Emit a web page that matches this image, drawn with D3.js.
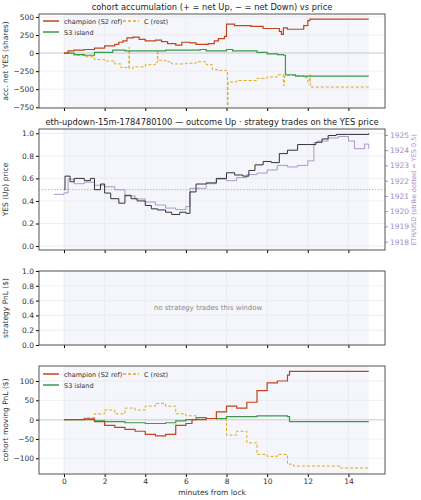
<!DOCTYPE html><html><head><meta charset="utf-8">
<script src="https://cdn.jsdelivr.net/npm/d3@7"></script>
<style>body{margin:0;background:#fff}text{font-family:"DejaVu Sans",sans-serif}</style></head><body>
<svg id="c" width="421" height="500"></svg>
<script>
const accChampT=[0,0.2,0.5,1,1.5,2,2.5,2.7,2.9,3.1,3.4,3.7,4,4.5,4.8,5.1,5.5,5.8,6.2,6.5,7.1,7.4,7.6,7.9,8.0,8.4,9.2,9.8,10.3,10.6,10.7,10.8,11.0,11.4,11.8,12.0,12.1,15];
const accChampV=[0,30,40,50,70,100,120,150,170,210,220,190,170,180,160,130,110,150,140,120,130,170,200,230,400,380,370,340,340,300,260,350,330,330,380,450,470,470];
const accS3T=[0,0.5,1,1.4,1.5,2.2,2.4,3,4,5,6,6.7,7,8,8.3,9,9.5,10,10.5,10.8,10.9,11.4,15];
const accS3V=[0,-20,-30,-30,10,10,40,30,30,40,40,50,30,50,30,30,10,-10,-20,-30,-300,-320,-320];
const accCT=[0,0.5,1,1.5,2,2.5,2.8,3.1,3.2,3.22,3.4,4,4.5,4.6,4.62,5,5.3,6,6.5,7.0,7.3,7.6,8,8.05,8.07,8.5,9.5,10,10.5,10.8,10.85,11,11.8,12,12.1,12.12,15];
const accCV=[0,-30,-50,-90,-110,-150,-200,-210,80,-210,-190,-160,-130,40,-100,-120,-150,-140,-120,-160,-230,-240,-260,-730,-400,-380,-350,-330,-300,-450,-320,-310,-340,-400,-300,-470,-470];
const yesT=[0,0.05,0.3,0.5,1,1.3,1.5,1.8,2,2.3,2.7,3,3.3,3.6,4,4.3,4.6,5,5.3,5.7,6.0,6.2,6.5,7,7.5,8,8.4,8.8,9.1,9.4,9.8,10.2,10.6,11,11.5,12,12.4,12.7,13,13.4,14,15];
const yesV=[0.5,0.62,0.57,0.6,0.58,0.6,0.5,0.55,0.47,0.42,0.38,0.45,0.42,0.4,0.36,0.33,0.32,0.3,0.28,0.3,0.29,0.48,0.55,0.56,0.6,0.65,0.63,0.62,0.67,0.72,0.75,0.74,0.82,0.85,0.9,0.9,0.92,0.95,0.98,0.99,0.99,1.0];
const ethT=[-0.5,0,0.2,0.5,1,1.5,2,2.5,3,3.5,4,4.5,5,5.5,6,6.2,7,7.5,8,8.5,9,9.5,10,10.5,11,11.5,12,12.3,12.5,13,13.5,14,14.3,14.8,15];
const ethV=[1921.1,1921.2,1922.1,1921.8,1921.9,1921.7,1921.6,1921.4,1921,1920.8,1920.6,1920.4,1920.2,1920.1,1920.3,1921.5,1921.8,1922.1,1922,1922.2,1922.4,1922.5,1922.7,1923,1922.9,1923,1923.3,1924.5,1924.6,1924.8,1924.9,1924.6,1924.1,1924.4,1924.1];
const pnlChampT=[0,1,1.5,2,2.5,3,3.5,4,4.5,5,5.5,6,6.3,7,7.5,8,8.5,9,9.5,10,10.5,11,11.1,15];
const pnlChampV=[0,2,-5,-15,-20,-25,-30,-38,-42,-38,-15,-10,0,3,20,35,30,45,75,95,100,115,125,125];
const pnlCT=[0,1,1.5,2,2.5,3,3.5,4,4.5,5,5.5,6,6.5,7,7.5,8,8.5,9,9.5,10,10.5,11,11.3,13.6,15];
const pnlCV=[0,5,15,25,15,30,25,35,42,35,15,10,5,3,0,-40,-30,-60,-90,-95,-90,-115,-120,-125,-125];
const pnlS3T=[0,1,1.5,2,3,4,5,5.5,6,6.5,7,8,9.5,11,11.1,15];
const pnlS3V=[0,0,-3,-5,-8,-10,-8,-3,0,5,3,8,10,8,-5,-5];
const xTicks=[0,2,4,6,8,10,12,14];
const RED="#c2441c",GREEN="#3a9a48",YEL="#e2a91b",PUR="#a48cc8";
const FS=7.5;

const svg=d3.select("#c");
const L=39,R=385;
const x=d3.scaleLinear().domain([-1.23,15.8]).range([L,R]);
const zip=(t,v)=>t.map((d,i)=>[d,v[i]]);

function panel(top,bot,ydom,yticks,fmt,label,showX){
  const y=d3.scaleLinear().domain(ydom).range([bot,top]);
  const g=svg.append("g");
  g.append("rect").attr("x",x(0)).attr("y",top).attr("width",x(15)-x(0)).attr("height",bot-top).attr("fill","#f4f6fb");
  g.selectAll(".gx").data(xTicks).join("line").attr("x1",d=>x(d)).attr("x2",d=>x(d)).attr("y1",top).attr("y2",bot).attr("stroke","#e6e6ea").attr("stroke-width",0.6);
  g.selectAll(".gy").data(yticks).join("line").attr("x1",L).attr("x2",R).attr("y1",d=>y(d)).attr("y2",d=>y(d)).attr("stroke","#e6e6ea").attr("stroke-width",0.6);
  const ax=svg.append("g").attr("transform",`translate(${L},0)`).call(d3.axisLeft(y).tickValues(yticks).tickFormat(fmt).tickSize(3).tickPadding(2));
  ax.select(".domain").remove();ax.selectAll("text").attr("font-size",FS).attr("fill","#333");
  const bx=svg.append("g").attr("transform",`translate(0,${bot})`).call(d3.axisBottom(x).tickValues(xTicks).tickSize(3).tickPadding(2).tickFormat(showX?d3.format("d"):""));
  bx.select(".domain").remove();bx.selectAll("text").attr("font-size",FS).attr("fill","#333");
  svg.append("text").attr("transform",`translate(8,${(top+bot)/2}) rotate(-90)`).attr("text-anchor","middle").attr("font-size",FS).attr("fill","#333").text(label);
  return {y,top,bot};
}
function frame(p){svg.append("rect").attr("x",L).attr("y",p.top).attr("width",R-L).attr("height",p.bot-p.top).attr("fill","none").attr("stroke","#555").attr("stroke-width",1);}
function line(p,t,v,col,w,dash){
  svg.append("path").datum(zip(t,v)).attr("fill","none").attr("stroke",col).attr("stroke-width",w).attr("stroke-dasharray",dash||null)
   .attr("d",d3.line().curve(d3.curveStepAfter).x(d=>x(d[0])).y(d=>p.y(d[1])));
}
function legend(p,x0,y0){
  const items=[["champion (S2 ref)",RED,null,x0,y0],["S3 island",GREEN,null,x0,y0+11],["C (rest)",YEL,"3,2",x0+80,y0]];
  items.forEach(([t,c,d,lx,ly])=>{
    svg.append("line").attr("x1",lx).attr("x2",lx+16).attr("y1",ly).attr("y2",ly).attr("stroke",c).attr("stroke-width",1.5).attr("stroke-dasharray",d);
    svg.append("text").attr("x",lx+21).attr("y",ly+2.5).attr("font-size",6.5).attr("fill","#333").text(t);
  });
}
function title(y,t){svg.append("text").attr("x",(L+R)/2).attr("y",y).attr("text-anchor","middle").attr("font-size",8.3).attr("fill","#222").text(t);}

// Panel 1
title(10,"cohort accumulation (+ = net Up, − = net Down) vs price");
const p1=panel(14,108,[-760,541],[500,250,0,-250,-500,-750],d3.format("d"),"acc. net YES (shares)",false);
svg.append("line").attr("x1",L).attr("x2",R).attr("y1",p1.y(0)).attr("y2",p1.y(0)).attr("stroke","#ccc").attr("stroke-width",1.5).attr("opacity",0.6);
line(p1,accCT,accCV,YEL,1,"3,2");line(p1,accS3T,accS3V,GREEN,1.2);line(p1,accChampT,accChampV,RED,1.2);
frame(p1);legend(p1,43,21);

// Panel 2
title(125,"eth-updown-15m-1784780100 — outcome Up · strategy trades on the YES price");
const p2=panel(129,250,[-0.035,1.038],[0,0.2,0.4,0.6,0.8,1.0],d3.format(".1f"),"YES (Up) price",false);
const yE=d3.scaleLinear().domain([1917.45,1925.39]).range([250,129]);
const ra=svg.append("g").attr("transform",`translate(${R},0)`).call(d3.axisRight(yE).tickValues([1918,1919,1920,1921,1922,1923,1924,1925]).tickFormat(d3.format("d")).tickSize(3).tickPadding(2));
ra.select(".domain").remove();ra.selectAll("text").attr("font-size",FS).attr("fill",PUR);ra.selectAll("line").attr("stroke",PUR);
svg.append("text").attr("transform",`translate(416,190) rotate(-90)`).attr("text-anchor","middle").attr("font-size",6.5).attr("fill",PUR).text("ETH/USD (strike dotted = YES 0.5)");
svg.append("line").attr("x1",L).attr("x2",R).attr("y1",p2.y(0.5)).attr("y2",p2.y(0.5)).attr("stroke","#aaa").attr("stroke-width",0.8).attr("stroke-dasharray","1.5,1.5");
svg.append("path").datum(zip(ethT,ethV)).attr("fill","none").attr("stroke",PUR).attr("stroke-width",0.9)
  .attr("d",d3.line().curve(d3.curveStepAfter).x(d=>x(d[0])).y(d=>yE(d[1])));
line(p2,yesT,yesV,"#333",1);
frame(p2);

// Panel 3
const p3=panel(271,345,[0,1],[0,0.2,0.4,0.6,0.8,1.0],d3.format(".1f"),"strategy PnL ($)",false);
svg.append("text").attr("x",(L+R)/2-4).attr("y",310).attr("text-anchor","middle").attr("font-size",7).attr("fill","#888").text("no strategy trades this window");
frame(p3);

// Panel 4
const p4=panel(366,474,[-140.6,138.8],[100,50,0,-50,-100],d3.format("d"),"cohort moving PnL ($)",true);
svg.append("line").attr("x1",L).attr("x2",R).attr("y1",p4.y(0)).attr("y2",p4.y(0)).attr("stroke","#ccc").attr("stroke-width",1.5).attr("opacity",0.6);
line(p4,pnlCT,pnlCV,YEL,1,"3,2");line(p4,pnlS3T,pnlS3V,GREEN,1.2);line(p4,pnlChampT,pnlChampV,RED,1.2);
frame(p4);legend(p4,43,374);
svg.append("text").attr("x",(L+R)/2).attr("y",495).attr("text-anchor","middle").attr("font-size",FS).attr("fill","#333").text("minutes from lock");
</script></body></html>
